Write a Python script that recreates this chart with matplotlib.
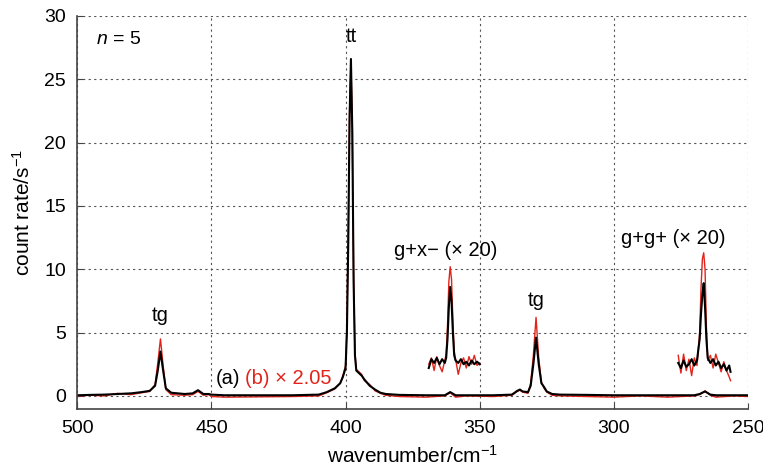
import numpy as np
import matplotlib
matplotlib.use("Agg")
import matplotlib.pyplot as plt

plt.rcParams['font.family'] = ['Liberation Sans', 'DejaVu Sans']
plt.rcParams['mathtext.fontset'] = 'custom'
plt.rcParams['mathtext.rm'] = 'Liberation Sans'
plt.rcParams['mathtext.it'] = 'Liberation Sans:italic'

# main spectrum (a) black, (b) x 2.05 red
wn = [500, 495, 490, 485, 480, 476, 473, 471, 470, 469, 468, 467, 465, 460, 457, 455, 453,
      451, 450, 445, 420, 410, 407, 404, 402, 401, 400, 399.5, 399, 398.5, 398, 397.5, 397,
      396.5, 396, 395, 394, 393, 391, 389, 387, 385, 380, 370, 363, 361, 359, 355, 345, 338,
      336, 335, 334, 332, 331, 330, 329, 328, 327, 326, 325, 323, 320, 310, 300, 290, 280,
      270, 268, 266, 264, 262, 255, 250]
spec_a = [0.05, 0.08, 0.1, 0.15, 0.2, 0.3, 0.4, 0.8, 2.0, 3.5, 2.0, 0.6, 0.25, 0.15, 0.2,
          0.45, 0.15, 0.15, 0.1, 0.05, 0.05, 0.1, 0.3, 0.6, 1.0, 1.5, 2.2, 5.0, 12.0, 22.0,
          26.6, 21.0, 9.0, 3.2, 2.0, 1.8, 1.6, 1.3, 0.8, 0.5, 0.25, 0.15, 0.08, 0.05, 0.05,
          0.3, 0.05, 0.05, 0.05, 0.1, 0.4, 0.5, 0.35, 0.3, 0.8, 2.5, 4.6, 2.5, 1.0, 0.7, 0.35,
          0.15, 0.1, 0.08, 0.05, 0.05, 0.05, 0.05, 0.15, 0.35, 0.1, 0.05, 0.05, 0.05]
spec_b = [0.0, 0.05, 0.0, 0.2, 0.1, 0.25, 0.35, 0.9, 2.6, 4.5, 2.4, 0.5, 0.1, 0.05, 0.1,
          0.35, 0.05, 0.1, -0.05, -0.1, -0.05, 0.0, 0.25, 0.55, 1.0, 1.6, 2.4, 5.5, 13.0,
          22.5, 26.4, 21.5, 9.5, 3.4, 2.1, 1.9, 1.7, 1.2, 0.9, 0.4, 0.2, 0.05, -0.05, -0.1,
          0.0, 0.25, -0.1, 0.0, -0.05, 0.05, 0.35, 0.45, 0.3, 0.2, 1.0, 3.2, 6.2, 3.0, 1.1,
          0.6, 0.3, 0.05, 0.0, -0.05, -0.1, 0.0, -0.1, 0.0, 0.1, 0.4, 0.05, -0.1, 0.0, -0.05]

# g+x- inset (x 20, offset)
wn_gx = [369, 368, 367, 366, 365, 364, 363, 362.5, 362, 361.5, 361, 360.5, 360, 359.5, 359,
         358, 357, 356, 355, 354, 353, 352, 351, 350]
gx_a = [2.2, 2.9, 2.6, 3.0, 2.5, 2.9, 2.6, 3.0, 4.5, 7.0, 8.6, 7.5, 5.0, 3.2, 2.8, 2.6, 2.9,
        2.5, 2.7, 2.4, 2.8, 2.5, 2.7, 2.5]
gx_b = [2.5, 3.0, 2.0, 3.1, 2.4, 1.9, 2.8, 3.3, 5.5, 9.0, 10.2, 9.2, 6.0, 3.5, 2.9, 1.7, 2.6,
        3.0, 2.2, 3.1, 2.5, 3.2, 2.4, 2.6]

# g+g+ inset (x 20, offset)
wn_gg = [276, 275, 274, 273, 272, 271, 270, 269, 268, 267.5, 267, 266.5, 266, 265.5, 265,
         264, 263, 262, 261, 260, 259, 258, 257, 256.5]
gg_a = [2.6, 2.2, 2.8, 2.3, 2.5, 2.9, 2.4, 2.8, 4.5, 6.5, 8.0, 8.9, 7.0, 4.5, 3.0, 2.6, 2.9,
        2.4, 2.7, 2.2, 2.5, 2.0, 2.4, 1.9]
gg_b = [3.2, 1.8, 3.3, 2.0, 2.9, 1.6, 3.0, 2.4, 5.0, 8.5, 10.8, 11.3, 10.0, 5.5, 2.8, 3.2,
        2.2, 3.3, 2.6, 1.9, 2.7, 2.0, 1.5, 1.2]

red = '#e2231a'

fig = plt.figure(figsize=(7.63, 4.68), dpi=100)
ax = fig.add_axes([0.1013, 0.127, 0.879, 0.839])

ax.plot(wn, spec_b, color=red, lw=1.0)
ax.plot(wn, spec_a, color='black', lw=1.5)
ax.plot(wn_gx, gx_b, color=red, lw=1.0)
ax.plot(wn_gx, gx_a, color='black', lw=1.5)
ax.plot(wn_gg, gg_b, color=red, lw=1.0)
ax.plot(wn_gg, gg_a, color='black', lw=1.5)

ax.set_xlim(500, 250)
ax.set_ylim(-1, 30)
ax.set_xticks([500, 450, 400, 350, 300, 250])
ax.set_yticks([0, 5, 10, 15, 20, 25, 30])
ax.grid(True, linestyle=(0, (2, 3)), color='#555555', lw=0.8)
ax.spines['top'].set_visible(False)
ax.spines['right'].set_visible(False)
for s in ['left', 'bottom']:
    ax.spines[s].set_color('#444444')
    ax.spines[s].set_linewidth(1.2)
ax.tick_params(direction='in', length=4, labelsize=14, pad=8, color='#444444')

ax.set_xlabel('wavenumber/cm$^{-1}$', fontsize=15, labelpad=6)
ax.set_ylabel('count rate/s$^{-1}$', fontsize=15, labelpad=8)

ax.text(493, 28.1, '$n$ = 5', fontsize=14, va='center')
ax.text(469, 5.6, 'tg', fontsize=14.5, ha='center', va='bottom')
ax.text(398, 27.6, 'tt', fontsize=14.5, ha='center', va='bottom')
ax.text(362.5, 10.7, 'g+x\u2212 (\u00d7 20)', fontsize=14.5, ha='center', va='bottom')
ax.text(329, 6.8, 'tg', fontsize=14.5, ha='center', va='bottom')
ax.text(278, 11.7, 'g+g+ (\u00d7 20)', fontsize=14.5, ha='center', va='bottom')
ax.text(448.5, 1.4, '(a)', fontsize=14.5, va='center')
ax.text(437.3, 1.4, '(b) \u00d7 2.05', fontsize=14.5, va='center', color=red)

fig.savefig('out.png', dpi=100)
